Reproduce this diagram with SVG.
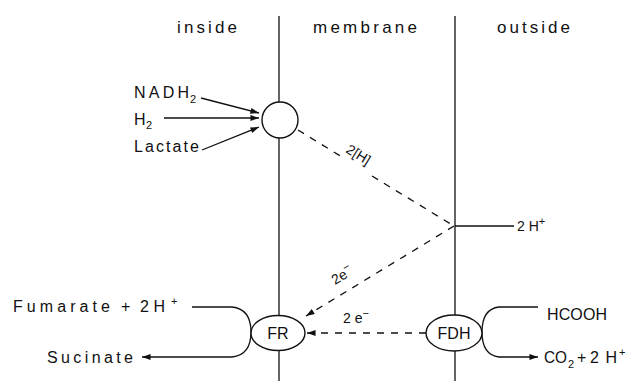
<svg xmlns="http://www.w3.org/2000/svg" width="631" height="381" viewBox="0 0 631 381">
<style>
text{font-family:"Liberation Sans",Arial,sans-serif;fill:#111}
.hd{font-size:17px}
.lb{font-size:16px}
.sm{font-size:14px}
.sub{font-size:11px}
.ln{stroke:#111;stroke-width:1.3;fill:none}
.da{stroke:#111;stroke-width:1.3;fill:none;stroke-dasharray:7 7}
.nd{stroke:#111;stroke-width:1.4;fill:#fff}
</style>
<defs>
<marker id="ah" viewBox="0 0 10 7" refX="10" refY="3.5" markerWidth="9" markerHeight="6" orient="auto" markerUnits="userSpaceOnUse">
<path d="M0,0 L10,3.5 L0,7 z" fill="#111"/>
</marker>
</defs>
<rect width="631" height="381" fill="#fff"/>
<g id="headers">
<text class="hd" x="177" y="33" textLength="60" lengthAdjust="spacing">inside</text>
<text class="hd" x="313" y="33" textLength="104" lengthAdjust="spacing">membrane</text>
<text class="hd" x="497" y="33" textLength="73" lengthAdjust="spacing">outside</text>
</g>
<g id="membrane-lines">
<line class="ln" x1="279" y1="16" x2="279" y2="102"/>
<line class="ln" x1="279" y1="138" x2="279" y2="316"/>
<line class="ln" x1="279" y1="350" x2="279" y2="381"/>
<line class="ln" x1="455" y1="16" x2="455" y2="315"/>
<line class="ln" x1="455" y1="351" x2="455" y2="381"/>
</g>
<g id="connectors">
<line class="ln" x1="201" y1="98" x2="259" y2="113" marker-end="url(#ah)"/>
<line class="ln" x1="164" y1="118" x2="259" y2="118" marker-end="url(#ah)"/>
<line class="ln" x1="202" y1="150" x2="259" y2="127" marker-end="url(#ah)"/>
<line class="da" x1="298" y1="130" x2="342" y2="157"/>
<line class="da" x1="372" y1="176" x2="454" y2="226"/>
<line class="ln" x1="455" y1="226" x2="514" y2="226"/>
<line class="da" x1="454" y1="226" x2="306" y2="316" marker-end="url(#ah)"/>
<line class="da" x1="426" y1="333" x2="307" y2="333" marker-end="url(#ah)"/>
<path class="ln" d="M192,307 L232,307 Q251,309 251,332 Q251,355 232,357 L142,357" marker-end="url(#ah)"/>
<path class="ln" d="M538,307 L499,307 Q482,309 482,332 Q482,355 499,357 L538,357" marker-end="url(#ah)"/>
</g>
<g id="labels">
<text class="sm" transform="translate(345,152) rotate(31.5)">2[H]</text>
<text class="sm" transform="translate(335,285) rotate(-31)">2e<tspan class="sub" dy="-6">−</tspan></text>
<text class="sm" x="343" y="323">2 e<tspan class="sub" dy="-6">−</tspan></text>
<text class="sm" x="517" y="231">2 H<tspan class="sub" dy="-6">+</tspan></text>
</g>
<g id="inputs-left">
<text class="lb" x="134" y="98" textLength="55" lengthAdjust="spacing">NADH</text><text class="sub" x="190" y="103">2</text>
<text class="lb" x="134" y="125">H</text><text class="sub" x="146" y="129">2</text>
<text class="lb" x="134" y="152" textLength="65" lengthAdjust="spacing">Lactate</text>
</g>
<g id="node-carrier">
<circle class="nd" cx="280" cy="120" r="18"/>
</g>
<g id="node-FR">
<ellipse class="nd" cx="278" cy="333" rx="27" ry="17.5"/>
<text class="lb" x="278" y="339" text-anchor="middle">FR</text>
</g>
<g id="node-FDH">
<ellipse class="nd" cx="454" cy="333" rx="28" ry="18"/>
<text class="lb" x="454" y="339" text-anchor="middle">FDH</text>
</g>
<g id="fr-texts">
<text class="lb" x="13" y="312" textLength="97" lengthAdjust="spacing">Fumarate</text>
<text class="lb" x="121" y="312">+</text>
<text class="lb" x="140" y="312" textLength="25" lengthAdjust="spacing">2H</text>
<text class="sub" x="171" y="305">+</text>
<text class="lb" x="47" y="363" textLength="86" lengthAdjust="spacing">Sucinate</text>
</g>
<g id="fdh-texts">
<text class="lb" x="547" y="320" textLength="60" lengthAdjust="spacing">HCOOH</text>
<text class="lb" x="544" y="363" textLength="23" lengthAdjust="spacingAndGlyphs">CO</text><text class="sub" x="568" y="368">2</text>
<text class="lb" x="577" y="363">+</text>
<text class="lb" x="590" y="363" textLength="27" lengthAdjust="spacing">2H</text>
<text class="sub" x="619" y="356">+</text>
</g>
</svg>
